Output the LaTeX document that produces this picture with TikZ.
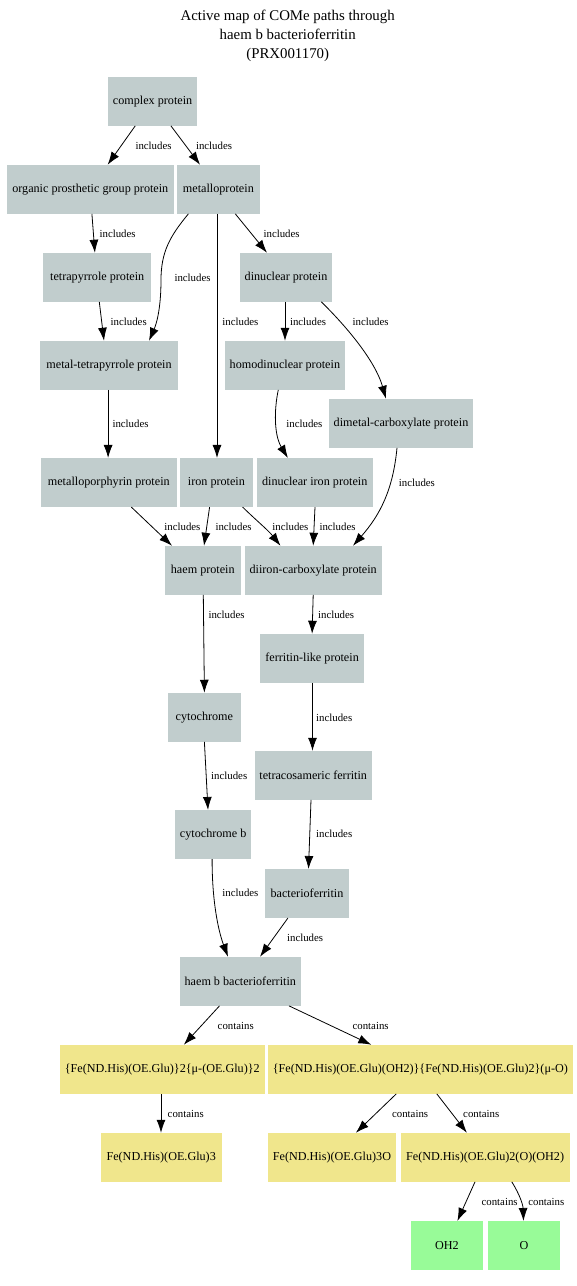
\documentclass[tikz,border=0pt]{standalone}
\usepackage{fontspec}
\setmainfont{Liberation Serif}
\usetikzlibrary{arrows.meta}
\definecolor{azure3}{HTML}{C1CDCD}
\definecolor{khaki}{HTML}{F0E68C}
\definecolor{palegreen}{HTML}{98FB98}
\tikzset{
  box/.style={rectangle, inner sep=0pt, minimum height=48.7pt,
    font=\fontsize{12.15}{14}\selectfont},
  prot/.style={box, fill=azure3},
  comp/.style={box, fill=khaki},
  atom/.style={box, fill=palegreen},
  lbl/.style={inner sep=0pt, font=\fontsize{10.8}{12}\selectfont},
  link/.style={draw=black, line width=0.8pt, -{Latex[length=13pt,width=9pt]}},
}
\begin{document}
\begin{tikzpicture}[x=1pt,y=-1pt]
\useasboundingbox (0,0) rectangle (577,1286);

% title
\node[align=center, font=\fontsize{14.85}{18.8}\selectfont] (title) at (287.7,36)
  {Active map of COMe paths through\\haem b bacterioferritin\\(PRX001170)};

% protein classes
\node[prot, minimum width=89.7pt]  (cp)   at (152.6,101.3) {complex protein};
\node[prot, minimum width=166.5pt] (opg)  at (90.3,189.3)  {organic prosthetic group protein};
\node[prot, minimum width=83pt]    (mp)   at (218.4,189.3) {metalloprotein};
\node[prot, minimum width=108.5pt] (tp)   at (97.2,277.3)  {tetrapyrrole protein};
\node[prot, minimum width=92.7pt]  (dn)   at (286,277.3)   {dinuclear protein};
\node[prot, minimum width=138pt]   (mtp)  at (109,365.3)   {metal-tetrapyrrole protein};
\node[prot, minimum width=120.6pt] (hdn)  at (284.9,365.3) {homodinuclear protein};
\node[prot, minimum width=144.5pt] (dmc)  at (401,423.3)   {dimetal-carboxylate protein};
\node[prot, minimum width=136pt]   (mpp)  at (108.8,482.5) {metalloporphyrin protein};
\node[prot, minimum width=73.2pt]  (ip)   at (216.4,482.5) {iron protein};
\node[prot, minimum width=116.2pt] (dni)  at (314.7,482.5) {dinuclear iron protein};
\node[prot, minimum width=76pt]    (hp)   at (202.8,570.3) {haem protein};
\node[prot, minimum width=136.8pt] (di)   at (313.2,570.3) {diiron-carboxylate protein};
\node[prot, minimum width=104.4pt] (fl)   at (312.1,658.3) {ferritin-like protein};
\node[prot, minimum width=72.8pt]  (cyt)  at (204.4,717.3) {cytochrome};
\node[prot, minimum width=116.9pt] (tcf)  at (313.2,775.3) {tetracosameric ferritin};
\node[prot, minimum width=76.5pt]  (cytb) at (213.2,834.5) {cytochrome b};
\node[prot, minimum width=84.6pt]  (bf)   at (307,893.5)   {bacterioferritin};
\node[prot, minimum width=121pt]   (hbb)  at (240.3,981.3) {haem b bacterioferritin};

% iron centres
\node[comp, minimum width=204.7pt] (fe2)  at (162.3,1069.3) {\{Fe(ND.His)(OE.Glu)\}2\{μ-(OE.Glu)\}2};
\node[comp, minimum width=305.6pt] (fefe) at (420.4,1069.3) {\{Fe(ND.His)(OE.Glu)(OH2)\}\{Fe(ND.His)(OE.Glu)2\}(μ-O)};
\node[comp, minimum width=121pt]   (fe3)  at (161.2,1157.3) {Fe(ND.His)(OE.Glu)3};
\node[comp, minimum width=128.7pt] (fe3o) at (332,1157.3)   {Fe(ND.His)(OE.Glu)3O};
\node[comp, minimum width=168.8pt] (feo)  at (485.1,1157.3) {Fe(ND.His)(OE.Glu)2(O)(OH2)};

% ligands
\node[atom, minimum width=72.4pt]  (oh2)  at (446.9,1245.5) {OH2};
\node[atom, minimum width=72.8pt]  (ox)   at (523.9,1245.5) {O};

% includes links
\draw[link] (cp) -- (opg);
\draw[link] (cp) -- (mp);
\draw[link] ([xshift=1.6]opg.south) -- ([xshift=-2.3]tp.north);
\draw[link] ([xshift=-30]mp.south) .. controls (170,236) and (161,252) .. (161,280)
  .. controls (161,310) and (156,325) .. ([xshift=40]mtp.north);
\draw[link] ([xshift=-1.4]mp.south) -- ([xshift=0.6]ip.north);
\draw[link] ([xshift=16.9]mp.south) -- ([xshift=-19]dn.north);
\draw[link] ([xshift=2.1]tp.south) -- ([xshift=-5]mtp.north);
\draw[link] ([xshift=-1]dn.south) -- ([xshift=0.1]hdn.north);
\draw[link] ([xshift=35.3]dn.south) .. controls (345,325) and (375,360) .. ([xshift=-15]dmc.north);
\draw[link] ([xshift=-0.9]mtp.south) -- ([xshift=-0.7]mpp.north);
\draw[link] ([xshift=-6.6]hdn.south) .. controls (274,410) and (274,435) .. ([xshift=-26.8]dni.north);
\draw[link] ([xshift=-4]dmc.south) .. controls (393,490) and (380,515) .. ([xshift=39.8]di.north);
\draw[link] ([xshift=22.5]mpp.south) -- ([xshift=-30.8]hp.north);
\draw[link] ([xshift=-6.8]ip.south) -- ([xshift=1.2]hp.north);
\draw[link] ([xshift=26.2]ip.south) .. controls (258,522) and (268,530) .. ([xshift=-32.7]di.north);
\draw[link] ([xshift=0.3]dni.south) -- (di.north);
\draw[link] ([xshift=0.5]hp.south) -- (cyt.north);
\draw[link] (di.south) -- (fl.north);
\draw[link] ([xshift=0.4]fl.south) -- ([xshift=-0.7]tcf.north);
\draw[link] (cyt.south) -- ([xshift=-5.2]cytb.north);
\draw[link] ([xshift=-2.2]tcf.south) -- ([xshift=1.5]bf.north);
\draw[link] ([xshift=-1.1]cytb.south) .. controls (212,900) and (218,930) .. ([xshift=-12.3]hbb.north);
\draw[link] ([xshift=-19.1]bf.south) -- ([xshift=19.7]hbb.north);

% contains links
\draw[link] ([xshift=-20.8]hbb.south) -- ([xshift=21.5]fe2.north);
\draw[link] ([xshift=48.7]hbb.south) -- ([xshift=-49.1]fefe.north);
\draw[link] ([xshift=-1.3]fe2.south) -- ([xshift=-0.2]fe3.north);
\draw[link] ([xshift=-24.1]fefe.south) -- ([xshift=23.9]fe3o.north);
\draw[link] ([xshift=16.4]fefe.south) -- ([xshift=-18.2]feo.north);
\draw[link] ([xshift=-10.1]feo.south) -- ([xshift=10.5]oh2.north);
\draw[link] ([xshift=26.7]feo.south) .. controls (520,1195) and (523,1205) .. ([xshift=-0.4]ox.north);

% link labels
\node[lbl] (l1)  at (153.5,145.7) {includes};
\node[lbl] (l2)  at (214,145.7)   {includes};
\node[lbl] (l3)  at (117.6,233.3) {includes};
\node[lbl] (l4)  at (281.6,233.3) {includes};
\node[lbl] (l5)  at (192.5,277.3) {includes};
\node[lbl] (l6)  at (128.7,321.3) {includes};
\node[lbl] (l7)  at (240.4,321.3) {includes};
\node[lbl] (l8)  at (308,321.3)   {includes};
\node[lbl] (l9)  at (370.6,321.3) {includes};
\node[lbl] (l10) at (130.5,423.3) {includes};
\node[lbl] (l11) at (304.4,423.3) {includes};
\node[lbl] (l12) at (416.9,482.3) {includes};
\node[lbl] (l13) at (182.4,526.7) {includes};
\node[lbl] (l14) at (233.5,526.7) {includes};
\node[lbl] (l15) at (290.4,526.7) {includes};
\node[lbl] (l16) at (337.5,526.7) {includes};
\node[lbl] (l17) at (226.5,614.3) {includes};
\node[lbl] (l18) at (336.1,614.3) {includes};
\node[lbl] (l19) at (334.2,717.3) {includes};
\node[lbl] (l20) at (229.2,775.3) {includes};
\node[lbl] (l21) at (334.2,834)   {includes};
\node[lbl] (l22) at (240.4,893)   {includes};
\node[lbl] (l23) at (305.1,937.3) {includes};
\node[lbl] (l24) at (235.7,1025.7) {contains};
\node[lbl] (l25) at (370.6,1025.7) {contains};
\node[lbl] (l26) at (185.7,1113.7) {contains};
\node[lbl] (l27) at (410.1,1113.7) {contains};
\node[lbl] (l28) at (481.2,1113.7) {contains};
\node[lbl] (l29) at (499.6,1201.7) {contains};
\node[lbl] (l30) at (546.3,1201.7) {contains};
\end{tikzpicture}
\end{document}
